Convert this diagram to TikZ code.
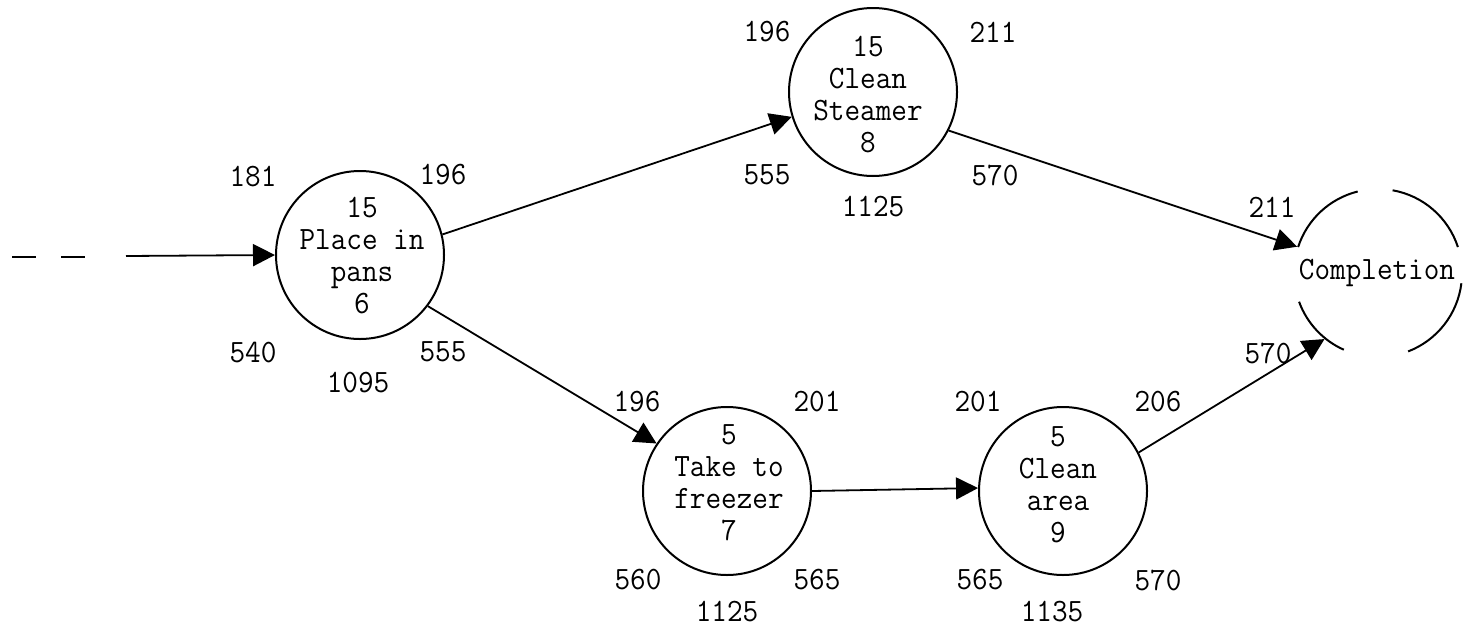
\documentclass[tikz,border=0pt]{standalone}
\usepackage{fontspec}
\newfontfamily\twfont{Latin Modern Mono}[FakeStretch=0.93]
\usetikzlibrary{arrows.meta}
\begin{document}
\begin{tikzpicture}[x=0.5pt,y=-0.5pt,
  font=\twfont\fontsize{16.3pt}{16pt}\selectfont,
  task/.style={circle,draw,line width=1pt,minimum size=84pt,inner sep=0pt},
  inner/.style={align=center,inner sep=0pt},
  num/.style={inner sep=0pt},
  conn/.style={line width=0.9pt,-{Triangle[length=11pt,width=11pt]}},
  arcline/.style={line width=1pt}
]
\useasboundingbox (0,0) rectangle (1466,632);
\fill[white] (0,0) rectangle (1466,632);

% task circles
\node[task] (A) at (360,255) {};
\node[inner] (At) at (362,256) {15\\Place in\\pans\\6};
\node[task] (B) at (873,92) {};
\node[inner] (Bt) at (868,95) {15\\Clean\\Steamer\\8};
\node[task] (C) at (727,491) {};
\node[inner] (Ct) at (729,483) {5\\Take to\\freezer\\7};
\node[task] (D) at (1063,491) {};
\node[inner] (Dt) at (1058,485) {5\\Clean\\area\\9};
\node[task,draw=none] (comp) at (1378,273) {};
\node[inner] (compt) at (1377,273) {Completion};

% broken circle of completion
\draw[arcline] (comp.center) ++(198:84) arc[start angle=198,end angle=256,radius=84];
\draw[arcline] (comp.center) ++(280:84) arc[start angle=280,end angle=342,radius=84];
\draw[arcline] (comp.center) ++(7:84) arc[start angle=7,end angle=69,radius=84];
\draw[arcline] (comp.center) ++(114:84) arc[start angle=114,end angle=160,radius=84];

% numbers around A
\node[num] (a1) at (253,177) {181};
\node[num] (a2) at (443,175) {196};
\node[num] (a3) at (253,353) {540};
\node[num] (a4) at (443,352) {555};
\node[num] (a5) at (358,383) {1095};
% numbers around B
\node[num] (b1) at (767,32) {196};
\node[num] (b2) at (993,32) {211};
\node[num] (b3) at (767,175) {555};
\node[num] (b4) at (995,175) {570};
\node[num] (b5) at (873,207) {1125};
% numbers around C
\node[num] (c1) at (637,402) {196};
\node[num] (c2) at (817,402) {201};
\node[num] (c3) at (638,580) {560};
\node[num] (c4) at (817,580) {565};
\node[num] (c5) at (727,612) {1125};
% numbers around D
\node[num] (d1) at (978,402) {201};
\node[num] (d2) at (1158,402) {206};
\node[num] (d3) at (980,580) {565};
\node[num] (d4) at (1158,580) {570};
\node[num] (d5) at (1052,612) {1135};
% numbers at completion
\node[num] (e1) at (1272,207) {211};
\node[num] (e2) at (1268,353) {570};

% incoming dashed lead
\coordinate (s0) at (12,257);
\coordinate (s1) at (90,257);
\coordinate (s2) at (126,256);
\draw[line width=0.9pt,dash pattern=on 12pt off 12.5pt] (s0) -- (s1);
\draw[conn] (s2) -- (A.180);

% connectors
\draw[conn] (A.14.5) -- (B.197);
\draw[conn] (A.-37) -- (C.146.5);
\draw[conn] (C.0) -- (D.178);
\draw[conn] (B.-27) -- (comp.162);
\draw[conn] (D.27) -- (comp.231);
\end{tikzpicture}
\end{document}
